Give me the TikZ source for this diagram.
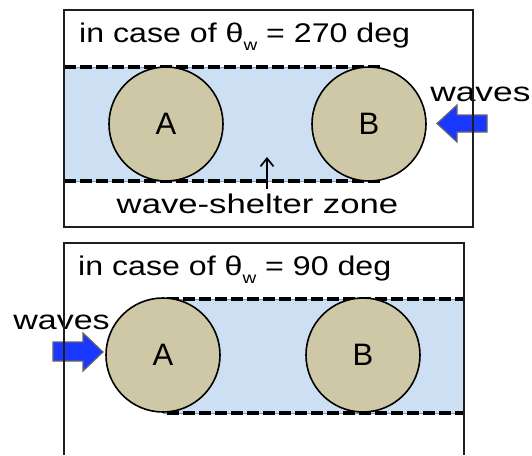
\documentclass[tikz,border=0pt]{standalone}
\usepackage{fontspec}
\setmainfont{Liberation Sans}
\usetikzlibrary{arrows.meta}
\definecolor{bandfill}{RGB}{205,223,242}
\definecolor{bandedge}{RGB}{110,155,210}
\definecolor{tan}{RGB}{206,200,166}
\definecolor{waveblue}{RGB}{25,55,255}
\definecolor{boxline}{RGB}{30,30,30}
\tikzset{
  txt/.style={inner sep=0pt, font=\fontsize{27}{30}\selectfont, xscale=1.19},
  pile/.style={circle, draw=black, line width=1.6pt, fill=tan, minimum size=114pt, inner sep=0pt, font=\fontsize{31}{32}\selectfont},
  band/.style={fill=bandfill, draw=bandedge, line width=0.9pt},
  zoneline/.style={line width=3.4pt, dash pattern=on 12pt off 4pt},
  blockarrow/.style={fill=waveblue, draw=black!60, line width=1.2pt, line join=miter},
  panel/.style={draw=boxline, line width=1.5pt}
}
\begin{document}
\begin{tikzpicture}[x=1pt,y=-1pt]
\useasboundingbox (0,0) rectangle (532,455);
% ---------- top panel ----------
\fill[white] (64,10) rectangle (473,227);
\draw[band] (64,67) rectangle (369,181);
\draw[zoneline] (64,67) -- (380,67);
\draw[zoneline] (64,181) -- (380,181);
\node[pile] (A1) at (166,124) {A};
\node[pile] (B1) at (369,124) {B};
\node[txt, anchor=base west] (title1) at (79,42) {in case of θ\raisebox{-0.3em}{\fontsize{16}{16}\selectfont w} = 270 deg};
\node[txt, anchor=base west, xscale=1.1] (waves1) at (430,101) {waves};
\draw[blockarrow] (437,123.5) -- (457,105) -- (457,115) -- (487,115) -- (487,132) -- (457,132) -- (457,142) -- cycle;
\node[txt, anchor=base, xscale=1.08] (zone) at (257.5,213) {wave-shelter zone};
\coordinate (ztip) at (267,157);
\coordinate (zbase) at (267,189);
\draw[line width=1.7pt, -{Straight Barb[length=8pt,width=13pt]}] (zbase) -- (ztip);
\draw[panel] (64,10) rectangle (473,227);
% ---------- bottom panel ----------
\draw[band] (163,299) rectangle (464,413);
\draw[zoneline] (167,299) -- (464,299);
\draw[zoneline] (167,413) -- (464,413);
\node[pile] (A2) at (163,355) {A};
\node[pile] (B2) at (363,355) {B};
\node[txt, anchor=base west] (title2) at (78,275) {in case of θ\raisebox{-0.3em}{\fontsize{16}{16}\selectfont w} = 90 deg};
\node[txt, anchor=base west, xscale=1.06] (waves2) at (13,329) {waves};
\draw[blockarrow] (103,352) -- (83,333) -- (83,342) -- (53,342) -- (53,361) -- (83,361) -- (83,371) -- cycle;
\draw[panel] (64,455) -- (64,243) -- (464,243) -- (464,455);
\end{tikzpicture}
\end{document}
